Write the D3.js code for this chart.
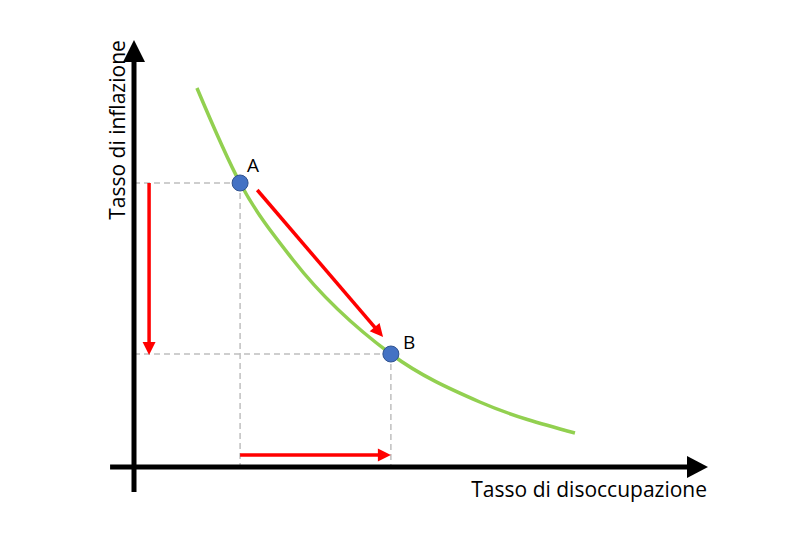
<!DOCTYPE html>
<html><head><meta charset="utf-8">
<script src="https://cdn.jsdelivr.net/npm/d3@7"></script>
<style>html,body{margin:0;padding:0;background:#fff;}svg{display:block;}</style>
</head><body>
<svg id="chart" width="810" height="540"></svg>
<script>
// Phillips curve data (unemployment, inflation)
const curveX = [1.21, 2.04, 3.06, 4.94, 6.65, 8.48];
const curveY = [7.58, 5.68, 4.14, 2.26, 1.30, 0.68];
const pointNames = ["A", "B"];
const pointX = [2.04, 4.94];
const pointY = [5.68, 2.26];
const axisLabels = ["Tasso di disoccupazione", "Tasso di inflazione"];

const svg = d3.select("#chart");
const x = d3.scaleLinear().domain([0, 11]).range([134, 706]);
const y = d3.scaleLinear().domain([0, 8.54]).range([467, 40]);

const FONT = "'Open Sans', sans-serif";
const red = "#ff0000";

// dashed guides
const gray = "#bfbfbf";
pointX.forEach((px, i) => {
  const py = pointY[i];
  svg.append("line").attr("x1", x(0)).attr("x2", x(px)).attr("y1", y(py)).attr("y2", y(py))
    .attr("stroke", gray).attr("stroke-width", 1.5).attr("stroke-dasharray", "6,4");
  svg.append("line").attr("x1", x(px)).attr("x2", x(px)).attr("y1", y(py)).attr("y2", y(0))
    .attr("stroke", gray).attr("stroke-width", 1.5).attr("stroke-dasharray", "6,4");
});

// axes
svg.append("line").attr("x1", x(-0.46)).attr("x2", x(10.7)).attr("y1", y(0)).attr("y2", y(0))
  .attr("stroke", "#000").attr("stroke-width", 5);
svg.append("line").attr("x1", x(0)).attr("x2", x(0)).attr("y1", y(-0.5)).attr("y2", y(8.2))
  .attr("stroke", "#000").attr("stroke-width", 5);
// arrowheads
const xt = x(11) + 2, yt = y(8.54);
svg.append("path").attr("d", `M${xt},${y(0)} L${xt-21},${y(0)-11} L${xt-21},${y(0)+11} Z`).attr("fill", "#000");
svg.append("path").attr("d", `M${x(0)},${yt} L${x(0)-11},${yt+22} L${x(0)+11},${yt+22} Z`).attr("fill", "#000");

// curve
const line = d3.line().x(d => x(d[0])).y(d => y(d[1])).curve(d3.curveMonotoneX);
svg.append("path").datum(curveX.map((v, i) => [v, curveY[i]]))
  .attr("d", line).attr("fill", "none").attr("stroke", "#92d050").attr("stroke-width", 3.5)
  .attr("stroke-linecap", "butt");

// red arrows
function arrow(x1, y1, x2, y2) {
  const X1 = x(x1), Y1 = y(y1), X2 = x(x2), Y2 = y(y2);
  const ang = Math.atan2(Y2 - Y1, X2 - X1);
  const L = 13, W = 6.5;
  const bx = X2 - L * Math.cos(ang), by = Y2 - L * Math.sin(ang);
  svg.append("line").attr("x1", X1).attr("y1", Y1).attr("x2", bx + 2 * Math.cos(ang)).attr("y2", by + 2 * Math.sin(ang))
    .attr("stroke", red).attr("stroke-width", 3.5);
  const px = -Math.sin(ang), py = Math.cos(ang);
  svg.append("path").attr("d", `M${X2},${Y2} L${bx + W*px},${by + W*py} L${bx - W*px},${by - W*py} Z`).attr("fill", red);
}
arrow(0.29, pointY[0], 0.29, pointY[1] - 0.02);
arrow(2.37, 5.54, 4.79, 2.6);
arrow(pointX[0], 0.24, pointX[1], 0.24);

// points
svg.selectAll("circle.pt").data(pointX).enter().append("circle")
  .attr("cx", d => x(d)).attr("cy", (d, i) => y(pointY[i])).attr("r", 8)
  .attr("fill", "#4472c4").attr("stroke", "#2f528f").attr("stroke-width", 1);
const labelDx = [7, 12], labelDy = [-11, -5];
svg.selectAll("text.pl").data(pointNames).enter().append("text")
  .attr("x", (d, i) => x(pointX[i]) + labelDx[i]).attr("y", (d, i) => y(pointY[i]) + labelDy[i])
  .attr("font-family", FONT).attr("font-size", 19).attr("fill", "#000").text(d => d);

// axis labels
svg.append("text").attr("x", 707).attr("y", 497).attr("text-anchor", "end")
  .attr("font-family", FONT).attr("font-size", 21).text(axisLabels[0]);
svg.append("text").attr("transform", "translate(125,130) rotate(-90)").attr("text-anchor", "middle")
  .attr("font-family", FONT).attr("font-size", 21).text(axisLabels[1]);
</script>
</body></html>
